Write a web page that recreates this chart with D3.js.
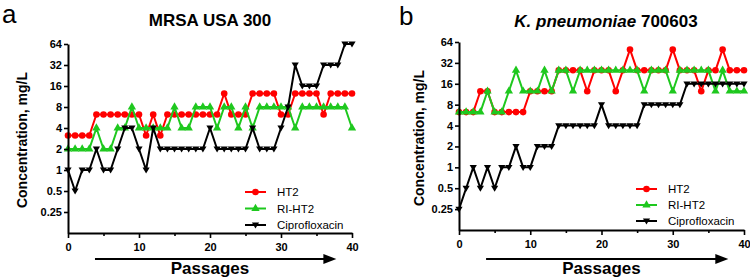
<!DOCTYPE html>
<html><head><meta charset="utf-8">
<script src="https://cdn.jsdelivr.net/npm/d3@7"></script>
<style>
body{margin:0;background:#fff}
svg{display:block}
text{font-family:"Liberation Sans",Arial,Helvetica,sans-serif}
</style>
</head><body>
<svg id="chart" width="750" height="279"></svg>
<script>
// ---------- DATA ----------
const passages = [0,1,2,3,4,5,6,7,8,9,10,11,12,13,14,15,16,17,18,19,20,21,22,23,24,25,26,27,28,29,30,31,32,33,34,35,36,37,38,39,40];
const yTickValues = [0.25,0.5,1,2,4,8,16,32,64];
const yTickLabels = ["0.25","0.5","1","2","4","8","16","32","64"];
const xTickValues = [0,10,20,30,40];
const xMinorTicks = [5,15,25,35];
const seriesNames = ["HT2","RI-HT2","Ciprofloxacin"];
const seriesColors = ["#ff0000","#1ec81e","#000000"];
const panelTitles = ["MRSA USA 300","K. pneumoniae 700603"];
const panelLetters = ["a","b"];

// Panel a: MRSA USA 300
const mrsaHT2 = [3.125,3.125,3.125,3.125,6.25,6.25,6.25,6.25,6.25,6.25,6.25,3.125,6.25,3.125,6.25,6.25,6.25,6.25,6.25,6.25,6.25,6.25,12.5,6.25,6.25,6.25,12.5,12.5,12.5,12.5,6.25,6.25,12.5,12.5,12.5,12.5,6.25,12.5,12.5,12.5,12.5];
const mrsaRIHT2 = [2,2,2,2,4,2,2,4,4,8,4,4,4,4,4,8,4,4,8,8,8,4,8,8,4,8,4,8,8,8,8,8,4,8,8,8,8,8,8,8,4];
const mrsaCipro = [1,0.5,1,1,2,1,1,2,4,4,2,1,4,2,2,2,2,2,2,2,4,2,2,2,2,2,4,2,2,2,4,8,32,16,16,16,32,32,32,64,64];

// Panel b: K. pneumoniae 700603
const kpHT2 = [6.25,6.25,6.25,12.5,12.5,6.25,6.25,6.25,6.25,6.25,12.5,12.5,12.5,12.5,25,25,25,25,12.5,25,25,25,12.5,25,50,25,25,25,25,25,50,25,25,25,12.5,25,25,50,25,25,25];
const kpRIHT2 = [6.25,6.25,6.25,6.25,12.5,6.25,6.25,12.5,25,12.5,12.5,12.5,25,12.5,25,25,12.5,25,25,25,25,25,25,25,25,25,12.5,25,25,25,12.5,25,25,25,25,25,12.5,25,12.5,12.5,12.5];
const kpCipro = [0.25,0.5,1,0.5,1,0.5,1,1,2,1,1,2,2,2,4,4,4,4,4,4,8,4,4,4,4,4,8,8,8,8,8,8,16,16,16,16,16,16,16,16,16];

// ---------- DRAW ----------
const svg = d3.select("#chart");
const markerTypes = ["circle","up","down"];

function markerPath(type){
  if(type==="circle") return d3.symbol().type(d3.symbolCircle).size(34)();
  if(type==="up") return d3.symbol().type(d3.symbolTriangle).size(30)();
  // downward triangle
  return "M-3.6,-2.4L3.6,-2.4L0,3.6Z";
}

function drawPanel(cfg, data, idx){
  const g = svg.append("g");
  const x = d3.scaleLinear().domain([0,40]).range([cfg.x0, cfg.x1]);
  const y = d3.scaleLog().base(2).domain([0.125,64]).range([cfg.yBot, cfg.yTop]);

  // series lines
  data.forEach((vals,s)=>{
    const pts = passages.map((p,i)=>[p, vals[i]]);
    g.append("path")
      .attr("d", d3.line().x(d=>x(d[0])).y(d=>y(d[1]))(pts))
      .attr("fill","none").attr("stroke",seriesColors[s])
      .attr("stroke-width",2).attr("stroke-linejoin","round");
    g.selectAll(null).data(pts).enter().append("path")
      .attr("d", markerPath(markerTypes[s]))
      .attr("transform", d=>`translate(${x(d[0])},${y(d[1])})`)
      .attr("fill",seriesColors[s]);
  });

  // y axis
  const ya = g.append("g").attr("transform",`translate(${cfg.x0},0)`)
    .call(d3.axisLeft(y).tickValues(yTickValues).tickFormat((d,i)=>yTickLabels[i]).tickSize(4).tickPadding(2).tickSizeOuter(0));
  // x axis
  const xa = g.append("g").attr("transform",`translate(0,${cfg.yBot})`)
    .call(d3.axisBottom(x).tickValues(xTickValues).tickFormat(d3.format("d")).tickSize(5).tickPadding(5).tickSizeOuter(0));
  g.append("g").attr("transform",`translate(0,${cfg.yBot})`)
    .call(d3.axisBottom(x).tickValues(xMinorTicks).tickFormat("").tickSize(3).tickSizeOuter(0))
    .select(".domain").remove();
  [ya,xa].forEach(a=>{
    a.select(".domain").attr("stroke","#000").attr("stroke-width",2);
    a.selectAll(".tick line").attr("stroke","#000").attr("stroke-width",1.6);
    a.selectAll(".tick text").attr("font-size",11).attr("font-weight","bold").attr("fill","#000")
      .style("font-family","'Liberation Sans',Arial,sans-serif");
  });
  g.selectAll(".tick line").attr("stroke","#000").attr("stroke-width",1.6);

  // y label
  g.append("text").attr("transform",`translate(${cfg.ylabX},${cfg.ylabY}) rotate(-90)`)
    .attr("text-anchor","middle").attr("font-size",14).attr("font-weight","bold")
    .text("Concentration, mg/L");

  // title
  const t = g.append("text").attr("x",cfg.titleX).attr("y",cfg.titleY)
    .attr("text-anchor","middle").attr("font-size",17).attr("font-weight","bold");
  if(idx===1){
    t.append("tspan").attr("font-style","italic").text("K. pneumoniae");
    t.append("tspan").text(" 700603");
  } else {
    t.text(panelTitles[idx]);
  }
  // panel letter
  g.append("text").attr("x",cfg.letterX).attr("y",cfg.letterY).attr("font-size",26).text(panelLetters[idx]);

  // legend
  seriesNames.forEach((n,s)=>{
    const ly = cfg.legY + s*cfg.legStep;
    g.append("line").attr("x1",cfg.legX).attr("x2",cfg.legX+21).attr("y1",ly).attr("y2",ly)
      .attr("stroke",seriesColors[s]).attr("stroke-width",2);
    g.append("path").attr("d",markerPath(markerTypes[s]))
      .attr("transform",`translate(${cfg.legX+10.5},${ly})`).attr("fill",seriesColors[s]);
    g.append("text").attr("x",cfg.legX+32).attr("y",ly+4).attr("font-size",11.5).text(n);
  });

  // arrow + Passages
  const ax0 = x(3.8), ax1 = x(37.8), ay = 259;
  g.append("line").attr("x1",ax0).attr("x2",ax1-10).attr("y1",ay).attr("y2",ay)
    .attr("stroke","#000").attr("stroke-width",2);
  g.append("path").attr("d",`M${ax1},${ay}L${ax1-13},${ay-5}L${ax1-13},${ay+5}Z`).attr("fill","#000");
  g.append("text").attr("x",x(20)).attr("y",274).attr("text-anchor","middle")
    .attr("font-size",17).attr("font-weight","bold").text("Passages");
}

drawPanel({x0:68,x1:352,yTop:44,yBot:233,ylabX:27,ylabY:140,titleX:210,titleY:26,letterX:2,letterY:23,legX:245,legY:192,legStep:16.5},
  [mrsaHT2,mrsaRIHT2,mrsaCipro],0);
drawPanel({x0:459,x1:744,yTop:42,yBot:230,ylabX:424,ylabY:138,titleX:606,titleY:27,letterX:399,letterY:25,legX:636,legY:189,legStep:16},
  [kpHT2,kpRIHT2,kpCipro],1);
</script>
</body></html>
